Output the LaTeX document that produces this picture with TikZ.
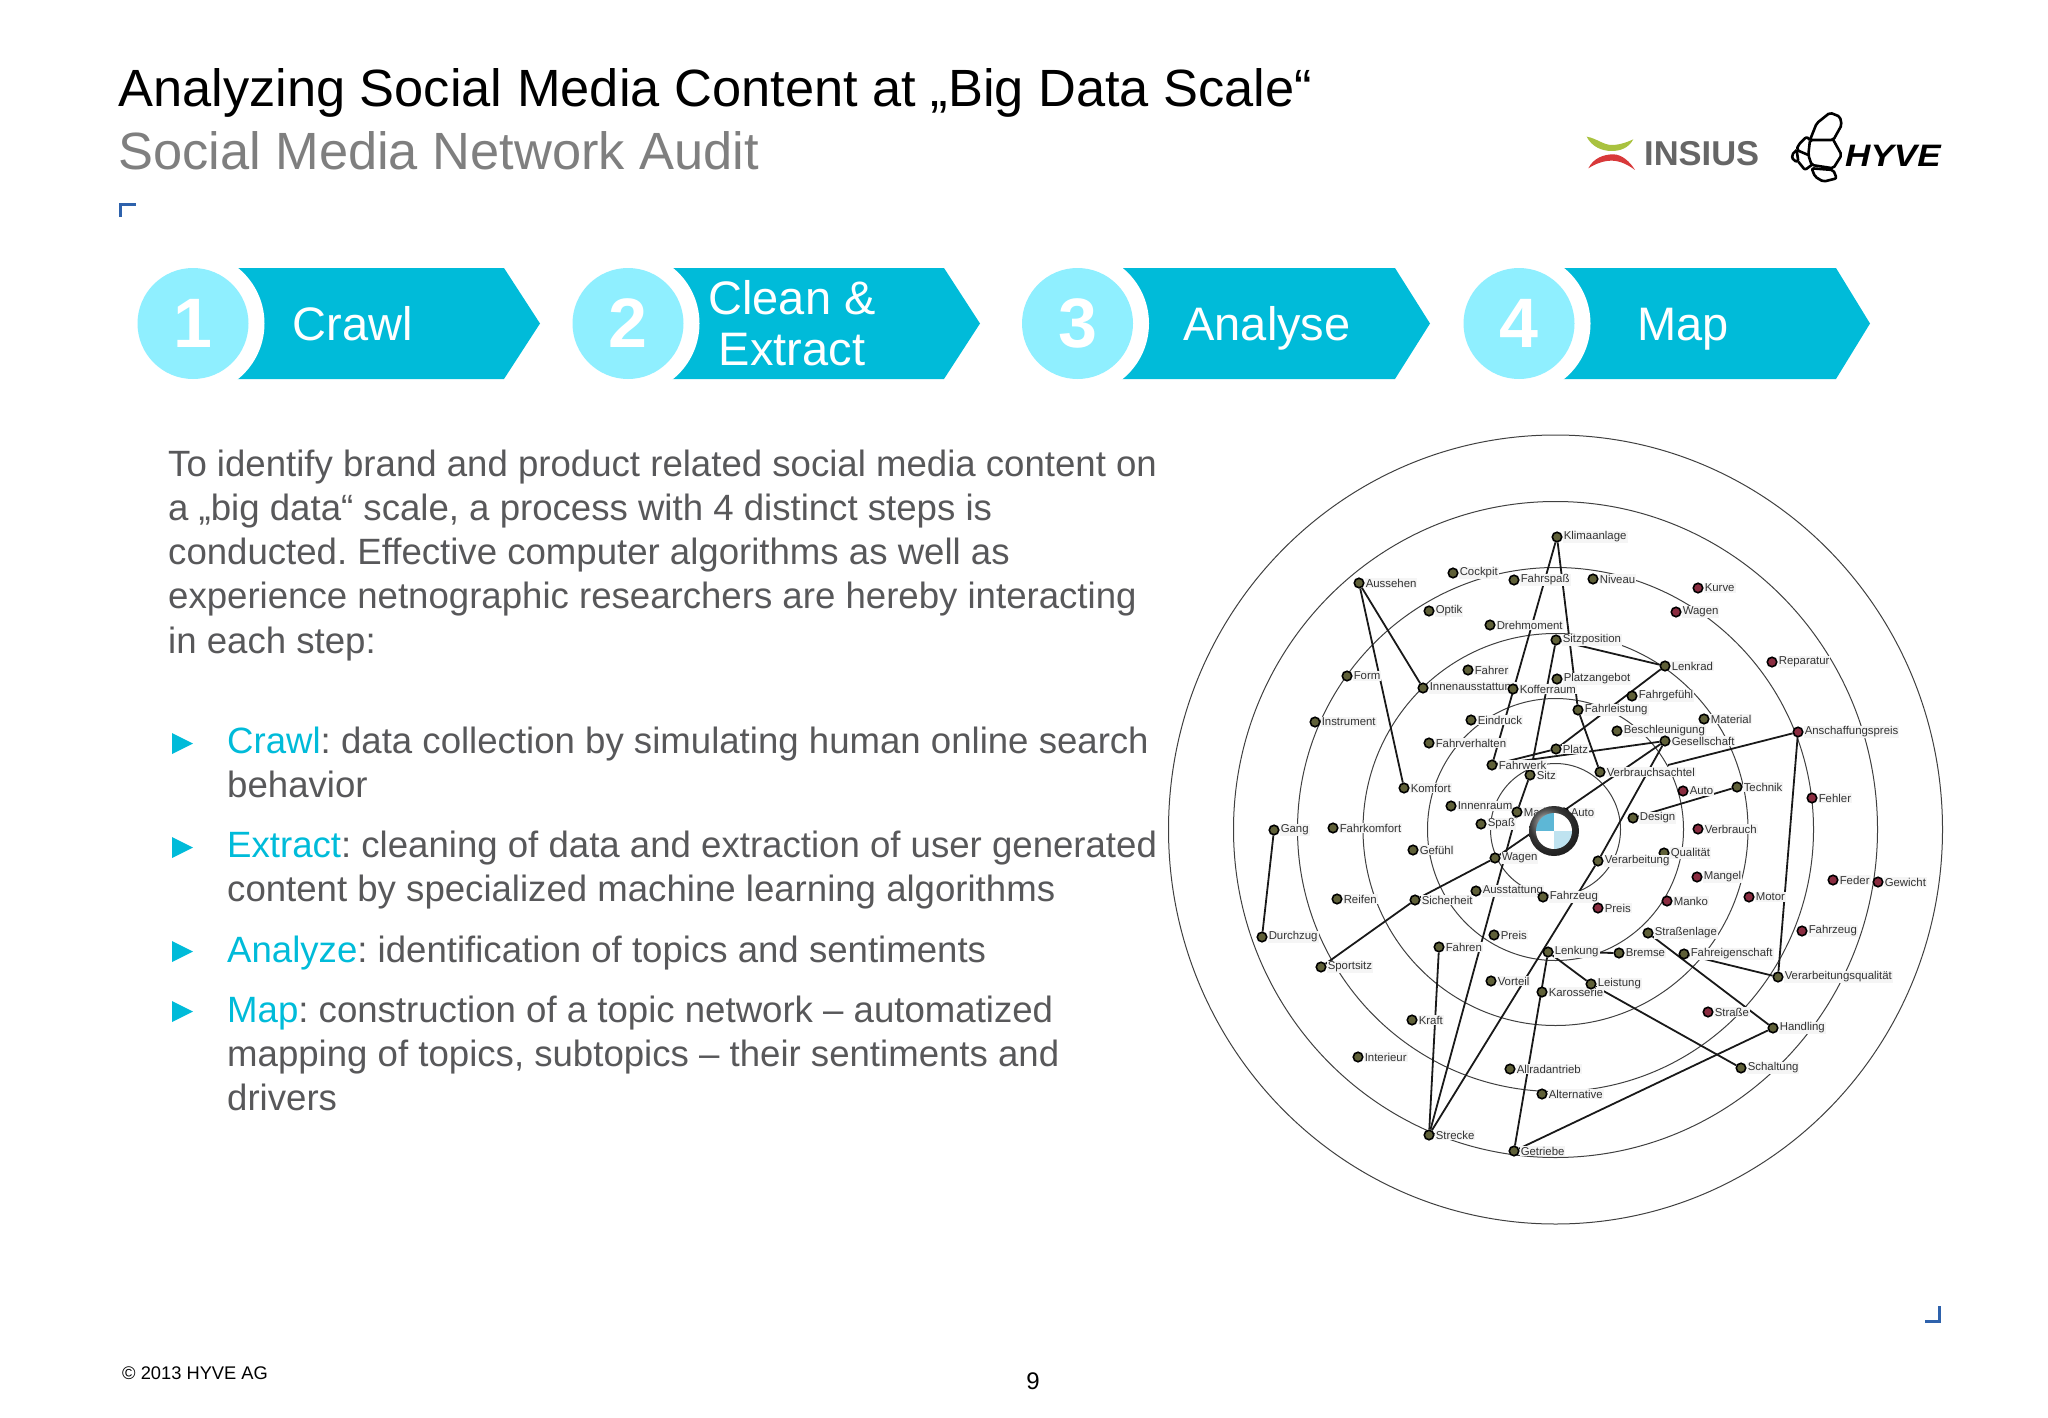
\documentclass[tikz,border=0pt]{standalone}
\usepackage{xcolor}
\usepackage{fontspec}
\usepackage{tikz}
\usetikzlibrary{backgrounds}
\setmainfont{Liberation Sans}

\definecolor{stepblue}{HTML}{00BBD9}
\definecolor{steplight}{HTML}{8FEFFF}
\definecolor{bodygrey}{HTML}{58585A}
\definecolor{subgrey}{HTML}{7F7F7F}
\definecolor{markblue}{HTML}{2E62AC}
\definecolor{topicdark}{HTML}{5F6038}
\definecolor{topicred}{HTML}{8A2C40}
\definecolor{swooshgreen}{HTML}{A9C23F}
\definecolor{swooshred}{HTML}{D8393A}
\definecolor{roundelblue}{HTML}{5DB7D6}
\definecolor{roundelpale}{HTML}{BFE3F0}

\begin{document}
\begin{tikzpicture}[
		x=1pt,
		y=-1pt,
	]
		\tikzset{chevron/.style={
			fill=stepblue,
		}}
		\tikzset{ringgap/.style={
			circle,
			fill=white,
			minimum size=143,
			inner sep=0,
		}}
		\tikzset{stepnum/.style={
			circle,
			fill=steplight,
			text=white,
			minimum size=111,
			inner sep=0,
			font=\fontsize{70pt}{70pt}\selectfont\bfseries,
		}}
		\tikzset{steptext/.style={
			text=white,
			align=center,
			inner sep=0,
			font=\fontsize{47pt}{51pt}\selectfont,
		}}
		\tikzset{bodytext/.style={
			anchor=north west,
			align=left,
			inner sep=0,
			text=bodygrey,
			font=\fontsize{36.6pt}{44.2pt}\selectfont\frenchspacing,
		}}
		\tikzset{topic/.style={
			circle,
			draw=black,
			fill=topicdark,
			line width=1.6,
			minimum size=9.5,
			inner sep=0,
		}}
		\tikzset{topicred/.style={
			topic,
			fill=topicred,
		}}
		\tikzset{topiclabel/.style={
			fill=black!4,
			text=black!80,
			inner sep=1,
			label distance=0,
			font=\fontsize{11.4pt}{12pt}\selectfont,
		}}
		\tikzset{ring/.style={
			draw=black!75,
			line width=1,
		}}
		\tikzset{link/.style={
			draw=black!90,
			line width=1.8,
		}}
		\tikzset{cell/.style={
			black,
			line width=2.6,
			line join=round,
			rounded corners=2,
		}}

		\useasboundingbox (0,0) rectangle (2048,1418);

		% title
		\node[anchor=base west,inner sep=0,font=\fontsize{52.4pt}{54pt}\selectfont] (title) at (118,107) {Analyzing Social Media Content at „Big Data Scale“};
		\node[anchor=base west,inner sep=0,text=subgrey,font=\fontsize{52.4pt}{54pt}\selectfont] (subtitle) at (118,169) {Social Media Network Audit};

		% corner marks
		\draw[markblue,line width=3] (120,217) -- (120,204) -- (136,204);
		\draw[markblue,line width=3] (1925,1321) -- (1939,1321) -- (1939,1306);

		% steps
		\fill[chevron] (192,268) -- (504,268) -- (540,323.5) -- (504,379) -- (192,379) -- cycle;
		\fill[chevron] (627,268) -- (944,268) -- (980,323.5) -- (944,379) -- (627,379) -- cycle;
		\fill[chevron] (1076,268) -- (1395,268) -- (1430,323.5) -- (1395,379) -- (1076,379) -- cycle;
		\fill[chevron] (1518,268) -- (1836,268) -- (1870,323.5) -- (1836,379) -- (1518,379) -- cycle;

		\node[ringgap] (gap1) at (193,323.5) {};
		\node[ringgap] (gap2) at (628,323.5) {};
		\node[ringgap] (gap3) at (1077.5,323.5) {};
		\node[ringgap] (gap4) at (1519,323.5) {};

		\node[stepnum] (step1) at (gap1) {\raisebox{-2pt}{1}};
		\node[stepnum] (step2) at (gap2) {\raisebox{-2pt}{2}};
		\node[stepnum] (step3) at (gap3) {\raisebox{-2pt}{3}};
		\node[stepnum] (step4) at (gap4) {\raisebox{-2pt}{4}};

		\node[steptext,anchor=base] (crawl) at (353,340) {Crawl};
		\node[steptext] (clean) at (792,323) {Clean \&\\Extract};
		\node[steptext,anchor=base] (analyse) at (1267,340) {Analyse};
		\node[steptext,anchor=base] (map) at (1683,340) {Map};

		% left text
		\node[bodytext] (intro) at (168,449.5) {To identify brand and product related social media content on\\a „big data“ scale, a process with 4 distinct steps is\\conducted. Effective computer algorithms as well as\\experience netnographic researchers are hereby interacting\\in each step:};
		\node[bodytext] (textcrawl) at (227,726.5) {\textcolor{stepblue}{Crawl}: data collection by simulating human online search\\behavior};
		\node[bodytext] (textextract) at (227,830.5) {\textcolor{stepblue}{Extract}: cleaning of data and extraction of user generated\\content by specialized machine learning algorithms};
		\node[bodytext] (textanalyze) at (227,935.5) {\textcolor{stepblue}{Analyze}: identification of topics and sentiments};
		\node[bodytext] (textmap) at (227,995.5) {\textcolor{stepblue}{Map}: construction of a topic network -- automatized\\mapping of topics, subtopics -- their sentiments and\\drivers};

		\fill[stepblue] (172,733) -- (193,743.5) -- (172,754) -- cycle;
		\fill[stepblue] (172,837) -- (193,847.5) -- (172,858) -- cycle;
		\fill[stepblue] (172,941) -- (193,951.5) -- (172,962) -- cycle;
		\fill[stepblue] (172,1001) -- (193,1011.5) -- (172,1022) -- cycle;

		% logos
		\begin{scope}[shift={(1540,90)},x=0.3333pt,y=-0.3333pt]
			\fill[swooshgreen] (140,140) .. controls (170,145) and (190,165) .. (215,165) .. controls (240,165) and (265,155) .. (280,148) .. controls (265,175) and (240,183) .. (215,183) .. controls (185,183) and (155,170) .. (140,140);
			\fill[swooshred] (145,235) .. controls (160,205) and (190,193) .. (220,193) .. controls (245,193) and (270,215) .. (285,240) .. controls (265,225) and (240,212) .. (215,212) .. controls (190,212) and (165,222) .. (145,235);
			\draw[cell] (810,150) -- (830,100) -- (870,68) -- (900,80) -- (905,105) -- (880,150) -- (810,150) -- (805,195) -- (815,225) -- (880,235) -- (905,195) -- (880,150);
			\draw[cell] (810,150) -- (800,140) -- (775,165) -- (770,180) -- (805,195);
			\draw[cell] (770,180) -- (755,195) -- (760,212) -- (775,215) -- (770,180);
			\draw[cell] (775,215) -- (795,240) -- (815,225);
			\draw[cell] (815,235) -- (880,240) -- (890,265) -- (850,275) -- (825,260) -- cycle;
		\end{scope}
		\node[anchor=west,inner sep=0,text=black!60,font=\fontsize{34.5pt}{35pt}\selectfont\bfseries] (insius) at (1644,154) {INSIUS};
		\node[anchor=west,inner sep=0,xscale=1.13,font=\fontsize{31pt}{31pt}\selectfont\bfseries\itshape] (hyve) at (1845,156) {HYVE};

		% footer
		\node[anchor=base west,inner sep=0,font=\fontsize{18.3pt}{19pt}\selectfont] (copyright) at (122,1379) {© 2013 HYVE AG};
		\node[anchor=base,inner sep=0,font=\fontsize{24pt}{24pt}\selectfont] (pagenum) at (1033,1389) {9};

		% topic network
		\coordinate (center) at (1555.5,829.5);

		\node[topic,label={[topiclabel]right:Aussehen}] (aussehen) at (1359,583) {};
		\node[topic,label={[topiclabel]right:Cockpit}] (cockpit) at (1453,573) {};
		\node[topic,label={[topiclabel]right:Fahrspaß}] (fahrspass) at (1514,580) {};
		\node[topic,label={[topiclabel]right:Klimaanlage}] (klimaanlage) at (1557,537) {};
		\node[topic,label={[topiclabel]right:Optik}] (optik) at (1429,611) {};
		\node[topic,label={[topiclabel]right:Drehmoment}] (drehmoment) at (1490,625) {};
		\node[topic,label={[topiclabel]right:Sitzposition}] (sitzposition) at (1556,640) {};
		\node[topic,label={[topiclabel]right:Form}] (form) at (1347,676) {};
		\node[topic,label={[topiclabel]right:Fahrer}] (fahrer) at (1468,670) {};
		\node[topic,label={[topiclabel]right:Innenausstattung}] (innenausstattung) at (1423,688) {};
		\node[topic,label={[topiclabel]right:Kofferraum}] (kofferraum) at (1513,689) {};
		\node[topic,label={[topiclabel]right:Platzangebot}] (platzangebot) at (1557,679) {};
		\node[topic,label={[topiclabel]right:Instrument}] (instrument) at (1315,722) {};
		\node[topic,label={[topiclabel]right:Eindruck}] (eindruck) at (1471,720) {};
		\node[topic,label={[topiclabel]right:Fahrverhalten}] (fahrverhalten) at (1429,743) {};
		\node[topic,label={[topiclabel]right:Sitz}] (sitz) at (1530,775) {};
		\node[topic,label={[topiclabel]right:Fahrwerk}] (fahrwerk) at (1492,765) {};
		\node[topic,label={[topiclabel]right:Platz}] (platz) at (1556,749) {};
		\node[topic,label={[topiclabel]right:Komfort}] (komfort) at (1404,788) {};
		\node[topic,label={[topiclabel]right:Innenraum}] (innenraum) at (1451,806) {};
		\node[topic,label={[topiclabel]right:Marke}] (marke) at (1517,812) {};
		\node[topic,label={[topiclabel]right:Spaß}] (spass) at (1481,824) {};
		\node[topic,label={[topiclabel]right:Gang}] (gang) at (1274,830) {};
		\node[topic,label={[topiclabel]right:Fahrkomfort}] (fahrkomfort) at (1333,828) {};

		\node[topic,label={[topiclabel]right:Niveau}] (niveau) at (1593,579) {};
		\node[topicred,label={[topiclabel]right:Kurve}] (kurve) at (1698,588) {};
		\node[topicred,label={[topiclabel]right:Wagen}] (wagenred) at (1676,612) {};
		\node[topicred,label={[topiclabel]right:Reparatur}] (reparatur) at (1772,662) {};
		\node[topic,label={[topiclabel]right:Lenkrad}] (lenkrad) at (1665,666) {};
		\node[topic,label={[topiclabel]right:Fahrgefühl}] (fahrgefuehl) at (1632,696) {};
		\node[topic,label={[topiclabel]right:Fahrleistung}] (fahrleistung) at (1578,710) {};
		\node[topic,label={[topiclabel]right:Material}] (material) at (1704,719) {};
		\node[topic,label={[topiclabel]right:Beschleunigung}] (beschleunigung) at (1617,731) {};
		\node[topicred,label={[topiclabel]right:Anschaffungspreis}] (anschaffungspreis) at (1798,732) {};
		\node[topic,label={[topiclabel]right:Gesellschaft}] (gesellschaft) at (1665,741) {};
		\node[topic,label={[topiclabel]right:Verbrauchsachtel}] (verbrauchsachtel) at (1600,772) {};
		\node[topicred,label={[topiclabel]right:Auto}] (autored) at (1683,791) {};
		\node[topic,label={[topiclabel]right:Technik}] (technik) at (1737,787) {};
		\node[topicred,label={[topiclabel]right:Fehler}] (fehler) at (1812,798) {};
		\node[topic,label={[topiclabel]right:Design}] (design) at (1633,818) {};
		\node[topicred,label={[topiclabel]right:Verbrauch}] (verbrauch) at (1698,829) {};
		\node[topic,label={[topiclabel]right:Auto}] (auto) at (1564,813) {};

		\node[topic,label={[topiclabel]right:Gefühl}] (gefuehl) at (1413,850) {};
		\node[topic,label={[topiclabel]right:Wagen}] (wagen) at (1495,858) {};
		\node[topic,label={[topiclabel]right:Ausstattung}] (ausstattung) at (1476,891) {};
		\node[topic,label={[topiclabel]right:Fahrzeug}] (fahrzeug) at (1543,897) {};
		\node[topic,label={[topiclabel]right:Reifen}] (reifen) at (1337,899) {};
		\node[topic,label={[topiclabel]right:Sicherheit}] (sicherheit) at (1415,900) {};
		\node[topic,label={[topiclabel]right:Durchzug}] (durchzug) at (1262,937) {};
		\node[topic,label={[topiclabel]right:Preis}] (preis) at (1494,935) {};
		\node[topic,label={[topiclabel]right:Sportsitz}] (sportsitz) at (1321,967) {};
		\node[topic,label={[topiclabel]right:Lenkung}] (lenkung) at (1548,952) {};
		\node[topic,label={[topiclabel]right:Fahren}] (fahren) at (1439,947) {};
		\node[topic,label={[topiclabel]right:Vorteil}] (vorteil) at (1491,981) {};
		\node[topic,label={[topiclabel]right:Karosserie}] (karosserie) at (1542,992) {};
		\node[topic,label={[topiclabel]right:Kraft}] (kraft) at (1412,1020) {};
		\node[topic,label={[topiclabel]right:Interieur}] (interieur) at (1358,1057) {};
		\node[topic,label={[topiclabel]right:Allradantrieb}] (allradantrieb) at (1510,1069) {};
		\node[topic,label={[topiclabel]right:Alternative}] (alternative) at (1542,1094) {};
		\node[topic,label={[topiclabel]right:Strecke}] (strecke) at (1429,1135) {};
		\node[topic,label={[topiclabel]right:Getriebe}] (getriebe) at (1514,1151) {};

		\node[topic,label={[topiclabel]right:Qualität}] (qualitaet) at (1664,853) {};
		\node[topic,label={[topiclabel]right:Verarbeitung}] (verarbeitung) at (1598,861) {};
		\node[topicred,label={[topiclabel]right:Mangel}] (mangel) at (1697,877) {};
		\node[topicred,label={[topiclabel]right:Feder}] (feder) at (1833,880) {};
		\node[topicred,label={[topiclabel]right:Gewicht}] (gewicht) at (1878,882) {};
		\node[topicred,label={[topiclabel]right:Motor}] (motor) at (1749,897) {};
		\node[topicred,label={[topiclabel]right:Manko}] (manko) at (1667,901) {};
		\node[topicred,label={[topiclabel]right:Preis}] (preisred) at (1598,908) {};
		\node[topicred,label={[topiclabel]right:Fahrzeug}] (fahrzeugred) at (1802,931) {};
		\node[topic,label={[topiclabel]right:Straßenlage}] (strassenlage) at (1648,933) {};
		\node[topic,label={[topiclabel]right:Fahreigenschaft}] (fahreigenschaft) at (1684,954) {};
		\node[topic,label={[topiclabel]right:Bremse}] (bremse) at (1619,953) {};
		\node[topic,label={[topiclabel]right:Verarbeitungsqualität}] (verarbeitungsqualitaet) at (1778,977) {};
		\node[topic,label={[topiclabel]right:Leistung}] (leistung) at (1591,984) {};
		\node[topicred,label={[topiclabel]right:Straße}] (strasse) at (1708,1012) {};
		\node[topic,label={[topiclabel]right:Handling}] (handling) at (1773,1028) {};
		\node[topic,label={[topiclabel]right:Schaltung}] (schaltung) at (1741,1068) {};

		\coordinate (anschaffungend) at (1668,765);

		\begin{scope}[on background layer]
			\draw[ring] (center) ellipse [x radius=387,y radius=394.5];
			\draw[ring] (center) ellipse [x radius=322,y radius=328];
			\draw[ring] (center) ellipse [x radius=258,y radius=262];
			\draw[ring] (center) ellipse [x radius=192.5,y radius=196];
			\draw[ring] (center) ellipse [x radius=128,y radius=131];
			\draw[ring] (center) ellipse [x radius=65,y radius=66];

			\draw[link] (aussehen) -- (innenausstattung);
			\draw[link] (aussehen) -- (komfort);
			\draw[link] (klimaanlage) -- (fahrwerk);
			\draw[link] (klimaanlage) -- (fahrleistung);
			\draw[link] (fahrleistung) -- (verbrauchsachtel);
			\draw[link] (sitzposition) -- (sitz);
			\draw[link] (sitzposition) -- (lenkrad);
			\draw[link] (lenkrad) -- (platz);
			\draw[link] (platz) -- (fahrwerk);
			\draw[link] (gesellschaft) -- (fahrwerk);
			\draw[link] (gesellschaft) -- (wagen);
			\draw[link] (gesellschaft) -- (verarbeitung);
			\draw[link] (verarbeitung) -- (strecke);
			\draw[link] (anschaffungspreis) -- (anschaffungend);
			\draw[link] (anschaffungspreis) -- (verarbeitungsqualitaet);
			\draw[link] (fahreigenschaft) -- (verarbeitungsqualitaet);
			\draw[link] (strassenlage) -- (handling);
			\draw[link] (getriebe) -- (handling);
			\draw[link] (leistung) -- (schaltung);
			\draw[link] (lenkung) -- (leistung);
			\draw[link] (lenkung) -- (bremse);
			\draw[link] (lenkung) -- (getriebe);
			\draw[link] (fahren) -- (strecke);
			\draw[link] (sitz) -- (marke);
			\draw[link] (marke) -- (strecke);
			\draw[link] (wagen) -- (sicherheit);
			\draw[link] (sicherheit) -- (sportsitz);
			\draw[link] (gang) -- (durchzug);
			\draw[link] (design) -- (technik);
		\end{scope}

		% roundel in the middle
		\node[circle,minimum size=50,inner sep=0] (roundel) at (1554,831) {};
		\shade[ball color=black!70] (roundel) circle [radius=25];
		\begin{scope}
			\clip (roundel) circle [radius=18];
			\fill[roundelblue] (1536,813) rectangle (1554,831);
			\fill[white] (1554,813) rectangle (1572,831);
			\fill[white] (1536,831) rectangle (1554,849);
			\fill[roundelpale] (1554,831) rectangle (1572,849);
		\end{scope}
	\end{tikzpicture}
\end{document}
